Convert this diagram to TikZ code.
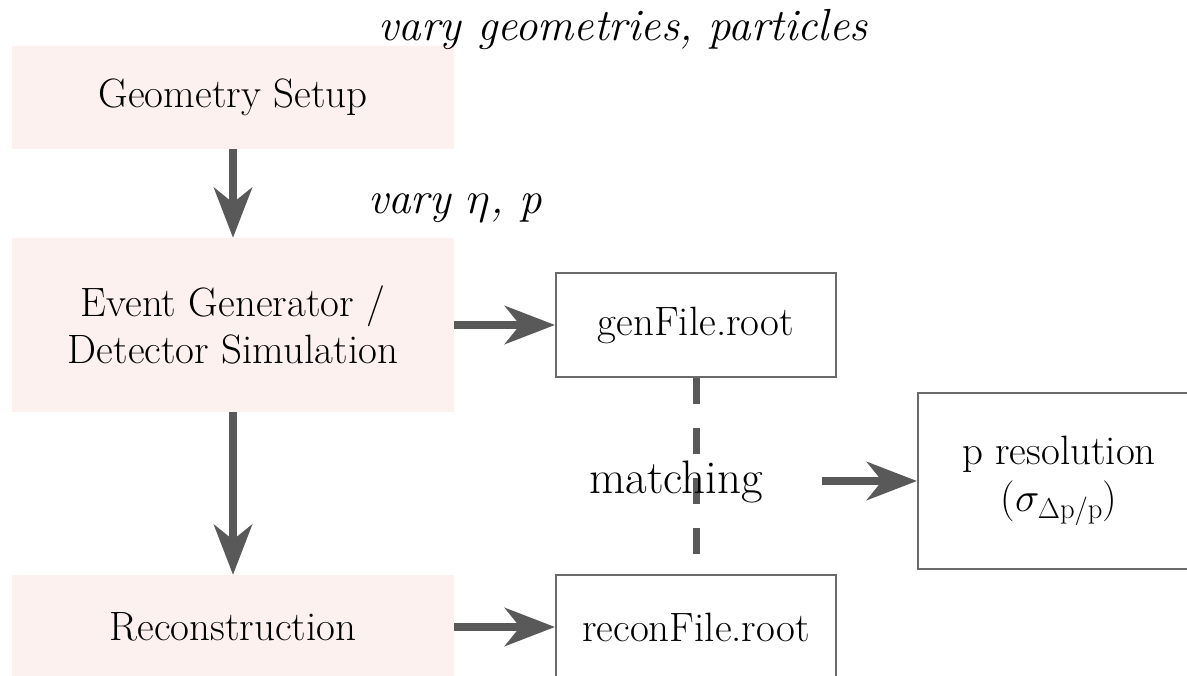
\RequirePackage{fix-cm}
\documentclass[tikz,border=0pt]{standalone}
\usepackage{fontspec}
\usetikzlibrary{arrows.meta}
\definecolor{boxpink}{HTML}{FCF1EF}
\definecolor{arrgray}{HTML}{595959}
\definecolor{edgegray}{HTML}{6A6A6A}
\tikzset{
  stage/.style={fill=boxpink, draw=none, minimum width=442pt, inner sep=0pt, align=center, font=\fontsize{41}{47}\selectfont},
  filebox/.style={fill=white, draw=edgegray, line width=2pt, minimum width=280pt, inner sep=0pt, align=center, font=\fontsize{41}{47}\selectfont},
  arr/.style={draw=arrgray, line width=8pt, -{Stealth[length=50pt, width=38pt, inset=15pt, color=arrgray]}, shorten >=0pt},
  dashline/.style={draw=arrgray, line width=7pt, dash pattern=on 26pt off 24pt},
  note/.style={font=\itshape\fontsize{45}{50}\selectfont, inner sep=0pt}
}
\begin{document}
\begin{tikzpicture}[x=1pt,y=-1pt]
\useasboundingbox (0,0) rectangle (1187,676);
\node[stage, minimum height=103pt] (geo) at (233,97.5) {Geometry Setup};
\node[stage, minimum height=174pt] (evt) at (233,325) {Event Generator /\\Detector Simulation};
\node[stage, minimum height=104pt] (rec) at (233,627) {Reconstruction};
\node[filebox, minimum height=104pt] (gen) at (696,325) {genFile.root};
\node[filebox, minimum height=104pt] (recon) at (696,627) {reconFile.root};
\node[filebox, minimum width=282pt, minimum height=175pt] (res) at (1059,481) {p resolution\\($\sigma_{\Delta\mathrm{p}/\mathrm{p}}$)};
\draw[dashline] (gen.south) -- (recon.north);
\node[font=\fontsize{47}{52}\selectfont, inner sep=0pt] (match) at (676,482) {matching};
\coordinate (mstart) at (822,481);
\node[note] (vg) at (623,29) {vary geometries, particles};
\node[note] (ve) at (455,208) {vary $\eta$, p};
\draw[arr] (geo.south) -- (evt.north);
\draw[arr] (evt.south) -- (rec.north);
\draw[arr] (evt.east) -- (gen.west);
\draw[arr] (rec.east) -- (recon.west);
\draw[arr] (mstart) -- (res.west);
\end{tikzpicture}
\end{document}
